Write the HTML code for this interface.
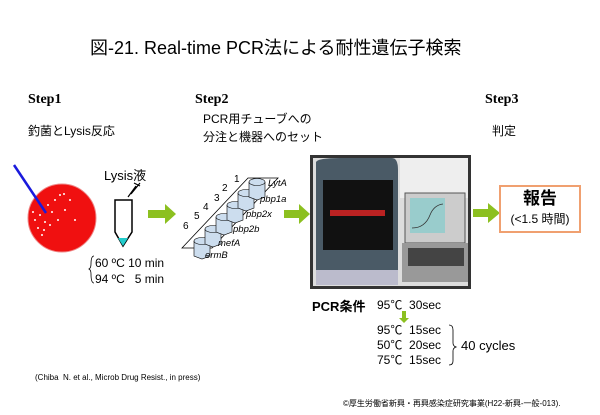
<!DOCTYPE html>
<html><head><meta charset="utf-8"><style>
body{margin:0;width:600px;height:415px;background:#fff;position:relative;overflow:hidden;font-family:"Liberation Sans","Noto Sans CJK JP",sans-serif;color:#000}
.t{position:absolute;white-space:nowrap}
.s{font-family:"Liberation Serif",serif;font-weight:bold;font-size:14px}
</style></head><body>
<div class="t" style="left:90px;top:34px;font-size:18px">図-21. Real-time PCR法による耐性遺伝子検索</div>
<div class="t s" style="left:28px;top:92px">Step1</div>
<div class="t" style="left:28px;top:122px;font-size:12px">釣菌とLysis反応</div>
<div class="t s" style="left:195px;top:92px">Step2</div>
<div class="t" style="left:203px;top:110px;font-size:12px;line-height:18px">PCR用チューブへの<br>分注と機器へのセット</div>
<div class="t s" style="left:485px;top:92px">Step3</div>
<div class="t" style="left:492px;top:122px;font-size:12px">判定</div>
<div class="t" style="left:104px;top:165px;font-size:13px">Lysis液</div>
<div class="t" style="left:95px;top:255px;font-size:12px;line-height:16px">60 ºC 10 min<br>94 ºC &nbsp;&nbsp;5 min</div>
<svg width="600" height="415" style="position:absolute;left:0;top:0">
<circle cx="62" cy="218" r="34" fill="#f01010" stroke="#e88" stroke-width="1"/>
<g fill="#fff"><circle cx="40" cy="215" r="1"/><circle cx="48" cy="205" r="1"/><circle cx="55" cy="200" r="1"/><circle cx="60" cy="195" r="1"/><circle cx="45" cy="222" r="1"/><circle cx="38" cy="228" r="1"/><circle cx="52" cy="212" r="1"/><circle cx="65" cy="210" r="1"/><circle cx="70" cy="200" r="1"/><circle cx="75" cy="220" r="1"/><circle cx="42" cy="235" r="1"/><circle cx="35" cy="220" r="1"/><circle cx="50" cy="225" r="1"/><circle cx="58" cy="220" r="1"/><circle cx="64" cy="194" r="1"/><circle cx="33" cy="212" r="1"/><circle cx="44" cy="230" r="1"/></g>
<line x1="14" y1="165" x2="46" y2="213" stroke="#1a1adc" stroke-width="2.5"/>
<path d="M115 200 H132 V232 L123 246 L115 232 Z" fill="#fff" stroke="#000" stroke-width="1.5"/>
<path d="M118 238 H128 L123 246 Z" fill="#2cc"/>
<path d="M128 197 L136 186 M131 194 L140 183 M134 183 L140 186" stroke="#000" stroke-width="1.2" fill="none"/>
<path d="M94 256 Q91 256 91 264 Q91 268 89 269 Q91 270 91 274 Q91 283 94 283" stroke="#000" fill="none" stroke-width=".8"/>
<path d="M148 210 H165 V204 L176 214 L165 224 V218 H148 Z" fill="#8cc020"/>
<path d="M284 210 H299 V204 L310 214 L299 224 V218 H284 Z" fill="#8cc020"/>
<path d="M473 209 H488 V203 L500 213 L488 223 V217 H473 Z" fill="#8cc020"/>
<path d="M402 311 H406 V318 H409 L404 323 L399 318 H402 Z" fill="#8cc020"/>
<path d="M182 248 L248 178 H278 L212 248 Z" fill="none" stroke="#000" stroke-width=".8"/>
<g fill="#cde" stroke="#000" stroke-width=".6">
<path d="M194 241 v15 l8 3 l8-3 v-15"/><ellipse cx="202" cy="241" rx="8" ry="3.5"/>
<path d="M205 229 v15 l8 3 l8-3 v-15"/><ellipse cx="213" cy="229" rx="8" ry="3.5"/>
<path d="M216 217 v15 l8 3 l8-3 v-15"/><ellipse cx="224" cy="217" rx="8" ry="3.5"/>
<path d="M227 205 v15 l8 3 l8-3 v-15"/><ellipse cx="235" cy="205" rx="8" ry="3.5"/>
<path d="M238 193 v15 l8 3 l8-3 v-15"/><ellipse cx="246" cy="193" rx="8" ry="3.5"/>
<path d="M249 182 v15 l8 3 l8-3 v-15"/><ellipse cx="257" cy="182" rx="8" ry="3.5"/>
</g>
<g font-size="10" font-family="Liberation Sans,sans-serif">
<text x="234" y="182">1</text><text x="222" y="191">2</text><text x="214" y="201">3</text><text x="203" y="210">4</text><text x="194" y="219">5</text><text x="183" y="229">6</text>
</g>
<g font-size="9.5" font-style="italic" font-family="Liberation Sans,sans-serif">
<text x="268" y="186">LytA</text><text x="260" y="202">pbp1a</text><text x="246" y="217">pbp2x</text><text x="233" y="232">pbp2b</text><text x="218" y="246">mefA</text><text x="205" y="258">ermB</text>
</g>
<rect x="310" y="155" width="161" height="134" fill="#333"/>
<rect x="313" y="158" width="155" height="128" fill="#ddd"/>
<rect x="400" y="158" width="68" height="40" fill="#eee"/>
<path d="M316 162 Q318 158 340 158 H392 Q398 158 398 170 V282 H316 Z" fill="#4a5a66"/>
<rect x="323" y="180" width="70" height="70" fill="#111"/>
<rect x="330" y="210" width="55" height="6" fill="#b22"/>
<rect x="316" y="270" width="82" height="15" fill="#bbc"/>
<rect x="405" y="193" width="60" height="50" fill="#ccc" stroke="#555"/>
<rect x="410" y="198" width="35" height="35" fill="#9cc"/>
<path d="M412 228 Q425 228 430 215 Q434 205 443 204" stroke="#333" fill="none" stroke-width=".8"/>
<path d="M402 243 H468 V282 H402 Z" fill="#999"/>
<rect x="408" y="248" width="56" height="18" fill="#444"/>
<rect x="500" y="186" width="80" height="46" fill="#fff" stroke="#f0a070" stroke-width="2"/>
<path d="M449 325 Q453 325 453 330 V343 Q453 346 456 347 Q453 348 453 351 V361 Q453 365 449 365" stroke="#000" fill="none" stroke-width=".8"/>
</svg>
<div class="t" style="left:500px;top:188px;width:80px;text-align:center;font-size:17px;font-weight:bold;line-height:22px">報告</div>
<div class="t" style="left:500px;top:210px;width:80px;text-align:center;font-size:12px">(&lt;1.5 時間)</div>
<div class="t" style="left:312px;top:296px;font-size:13px;font-weight:bold">PCR条件</div>
<div class="t" style="left:377px;top:296px;font-size:12px">95℃ &nbsp;30sec</div>
<div class="t" style="left:377px;top:323px;font-size:12px;line-height:15px">95℃ &nbsp;15sec<br>50℃ &nbsp;20sec<br>75℃ &nbsp;15sec</div>
<div class="t" style="left:461px;top:338px;font-size:13px">40 cycles</div>
<div class="t" style="left:35px;top:373px;font-size:8px">(Chiba &nbsp;N. et al., Microb Drug Resist., in press)</div>
<div class="t" style="left:343px;top:398px;font-size:8px">©厚生労働省新興・再興感染症研究事業(H22-新興-一般-013).</div>
</body></html>
